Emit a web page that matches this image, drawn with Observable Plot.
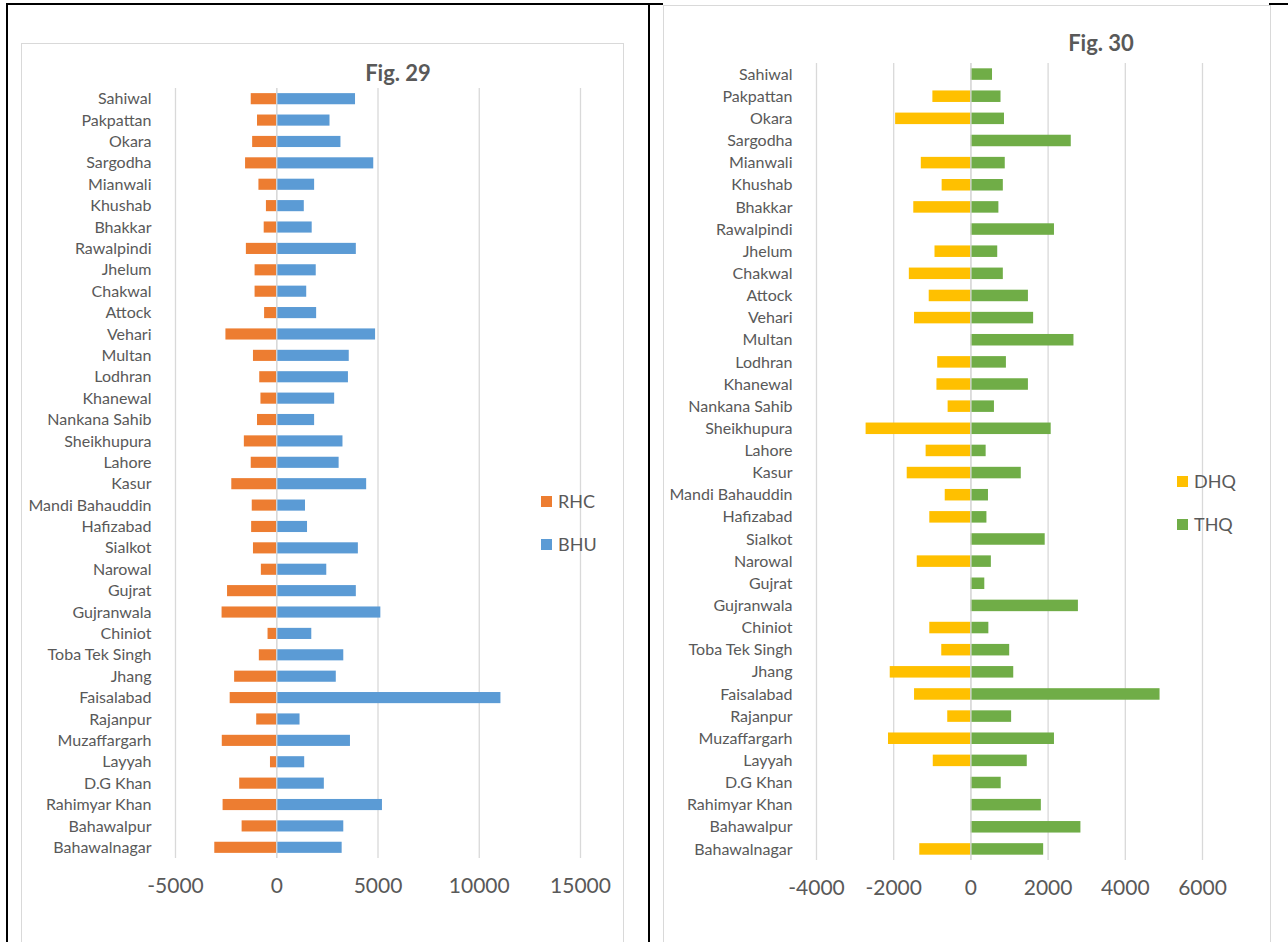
<!DOCTYPE html>
<html>
<head>
<meta charset="utf-8">
<script src="https://cdn.jsdelivr.net/npm/d3@7"></script>
<script src="https://cdn.jsdelivr.net/npm/@observablehq/plot@0.6"></script>
<style>
  html, body { margin: 0; padding: 0; background: #fff; }
  #page { position: relative; width: 1288px; height: 942px; overflow: hidden; font-family: Lato, "Open Sans", sans-serif; color: #595959; }
  .rule { position: absolute; background: #000; }
  .frame { position: absolute; border: 1.5px solid #d9d9d9; background: #fff; box-sizing: border-box; }
  .plot { position: absolute; }
  .title { position: absolute; font-weight: bold; font-size: 22px; color: #595959; white-space: nowrap; transform: translateX(-50%); }
  .legend { position: absolute; font-size: 18px; color: #595959; }
  .legend div { display: flex; align-items: center; height: 22px; margin-bottom: 21px; }
  .legend span.sw { display: inline-block; width: 11px; height: 11px; margin-right: 6px; }
</style>
</head>
<body>
<div id="page">
  <div class="rule" style="left:6px; top:3px; width:657px; height:2px;"></div>
  <div class="rule" style="left:1269px; top:3px; width:19px; height:2px;"></div>
  <div class="rule" style="left:6px; top:3px; width:2px; height:939px;"></div>
  <div class="rule" style="left:648px; top:3px; width:2px; height:939px;"></div>

  <div class="frame" style="left:21px; top:43px; width:603px; height:920px;"></div>
  <div class="frame" style="left:663px; top:5px; width:608px; height:960px;"></div>

  <div id="fig29" class="plot" style="left:21px; top:43px;"></div>
  <div id="fig30" class="plot" style="left:663px; top:5px;"></div>

  <div class="title" style="left:398px; top:59px;">Fig. 29</div>
  <div class="title" style="left:1101px; top:29px;">Fig. 30</div>

  <div class="legend" style="left:541px; top:490px;">
    <div><span class="sw" style="background:#ED7D31"></span>RHC</div>
    <div><span class="sw" style="background:#5B9BD5"></span>BHU</div>
  </div>
  <div class="legend" style="left:1177px; top:470px;">
    <div><span class="sw" style="background:#FFC000"></span>DHQ</div>
    <div><span class="sw" style="background:#70AD47"></span>THQ</div>
  </div>
</div>
<script>
// Districts of Punjab, listed top to bottom as they appear on both charts
const districts = [
  "Sahiwal", "Pakpattan", "Okara", "Sargodha", "Mianwali", "Khushab", "Bhakkar",
  "Rawalpindi", "Jhelum", "Chakwal", "Attock", "Vehari", "Multan", "Lodhran",
  "Khanewal", "Nankana Sahib", "Sheikhupura", "Lahore", "Kasur", "Mandi Bahauddin",
  "Hafizabad", "Sialkot", "Narowal", "Gujrat", "Gujranwala", "Chiniot",
  "Toba Tek Singh", "Jhang", "Faisalabad", "Rajanpur", "Muzaffargarh", "Layyah",
  "D.G Khan", "Rahimyar Khan", "Bahawalpur", "Bahawalnagar"
];

// Fig. 29: RHC drawn to the left of zero, BHU to the right
const rhc = [
  -1260, -950, -1190, -1540, -880, -510, -620,
  -1500, -1070, -1070, -600, -2510, -1150, -840,
  -780, -950, -1600, -1260, -2220, -1210,
  -1240, -1150, -760, -2430, -2700, -430,
  -860, -2080, -2300, -990, -2690, -310,
  -1830, -2650, -1710, -3060
];
const bhu = [
  3890, 2630, 3170, 4790, 1870, 1360, 1750,
  3930, 1950, 1480, 1970, 4880, 3580, 3540,
  2860, 1870, 3270, 3080, 4440, 1420,
  1520, 4030, 2470, 3930, 5140, 1730,
  3310, 2940, 11070, 1150, 3640, 1380,
  2350, 5220, 3310, 3230
];

// Fig. 30: DHQ drawn to the left of zero (null where a district has none), THQ to the right
const dhq = [
  null, -985, -1950, null, -1285, -745, -1480,
  null, -930, -1595, -1080, -1460, null, -860,
  -880, -590, -2715, -1160, -1650, -665,
  -1065, null, -1390, null, null, -1065,
  -755, -2090, -1460, -600, -2135, -975,
  null, null, null, -1325
];
const thq = [
  560, 780, 870, 2600, 890, 840, 725,
  2165, 695, 840, 1490, 1625, 2670, 920,
  1490, 610, 2080, 395, 1305, 455,
  415, 1925, 530, 360, 2785, 465,
  1005, 1110, 4900, 1055, 2165, 1460,
  785, 1825, 2850, 1885
];

const xTicks29 = [-5000, 0, 5000, 10000, 15000];
const xTicks30 = [-4000, -2000, 0, 2000, 4000, 6000];

function rowsFrom(series) {
  const out = [];
  for (const [name, values] of series) {
    values.forEach((v, i) => { if (v != null) out.push({district: districts[i], series: name, value: v}); });
  }
  return out;
}

function butterfly({rows, seriesNames, colors, ticks, width, height, margins}) {
  return Plot.plot({
    width, height,
    marginLeft: margins.left, marginRight: margins.right,
    marginTop: margins.top, marginBottom: margins.bottom,
    style: {fontFamily: "Lato, 'Open Sans', sans-serif", color: "#595959", background: "transparent", overflow: "visible"},
    x: {domain: [ticks[0], ticks[ticks.length - 1]], ticks, tickFormat: d => String(d), label: null},
    y: {domain: districts, paddingInner: 0.48, paddingOuter: 0.24, round: false, label: null},
    color: {domain: seriesNames, range: colors},
    marks: [
      Plot.gridX(ticks, {stroke: "#d9d9d9", strokeOpacity: 1, strokeWidth: 1.3}),
      Plot.barX(rows, {y: "district", x: "value", fill: "series"}),
      Plot.ruleX([0], {stroke: "#d9d9d9", strokeWidth: 1.3}),
      Plot.axisX({ticks, tickFormat: d => String(d), tickSize: 0, tickPadding: 20, fontSize: 21, fill: "#595959", label: null}),
      Plot.axisY({tickSize: 0, tickPadding: 24, fontSize: 16, fill: "#595959", label: null})
    ]
  });
}

document.getElementById("fig29").append(butterfly({
  rows: rowsFrom([["RHC", rhc], ["BHU", bhu]]),
  seriesNames: ["RHC", "BHU"],
  colors: ["#ED7D31", "#5B9BD5"],
  ticks: xTicks29,
  width: 602, height: 899,
  margins: {left: 154, right: 43, top: 45, bottom: 84}
}));

document.getElementById("fig30").append(butterfly({
  rows: rowsFrom([["DHQ", dhq], ["THQ", thq]]),
  seriesNames: ["DHQ", "THQ"],
  colors: ["#FFC000", "#70AD47"],
  ticks: xTicks30,
  width: 607, height: 937,
  margins: {left: 153, right: 68, top: 58, bottom: 82}
}));
</script>
</body>
</html>
